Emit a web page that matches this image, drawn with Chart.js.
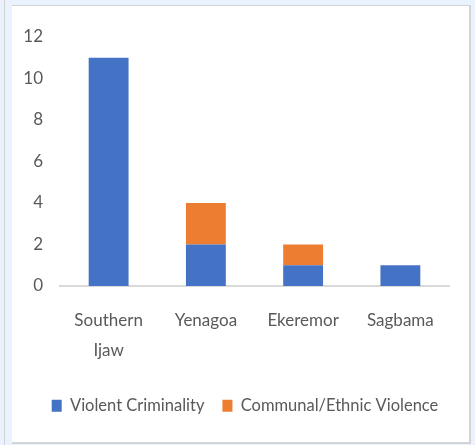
<!DOCTYPE html>
<html>
<head>
<meta charset="utf-8">
<script src="https://cdn.jsdelivr.net/npm/chart.js@4/dist/chart.umd.min.js"></script>
<style>
  html, body { margin: 0; padding: 0; }
  body { width: 475px; height: 445px; background: #eaf3fd; position: relative; overflow: hidden; }
  #edge { position: absolute; left: 4px; top: 0; width: 1px; height: 445px; background: #d4d4d4; }
  #panel { position: absolute; left: 12px; top: 5px; width: 457px; height: 436px;
           background: #fff; border-top: 1px solid #d4d4d4; border-right: 2px solid #d4d4d4; border-bottom: 2px solid #d4d4d4; }
  #wrap { position: absolute; left: 0; top: 0; width: 457px; height: 436px; }
</style>
</head>
<body>
<div id="edge"></div>
<div id="panel"><div id="wrap"><canvas id="c"></canvas></div></div>
<script>
// Incidents by local government area, split by type
const categories = [['Southern', 'Ijaw'], 'Yenagoa', 'Ekeremor', 'Sagbama'];
const violentCriminality = [11, 2, 1, 1];
const communalEthnicViolence = [0, 2, 1, 0];
const yTicks = [0, 2, 4, 6, 8, 10, 12];

const FONT = "Lato, 'Open Sans', sans-serif";
const TEXT = '#595959';

new Chart(document.getElementById('c'), {
  type: 'bar',
  data: {
    labels: categories,
    datasets: [
      { label: 'Violent Criminality', data: violentCriminality, backgroundColor: '#4472c4' },
      { label: 'Communal/Ethnic Violence', data: communalEthnicViolence, backgroundColor: '#ed7d31' }
    ]
  },
  options: {
    responsive: true,
    maintainAspectRatio: false,
    animation: false,
    layout: { padding: { left: 9, right: 0, top: 31, bottom: 18 } },
    datasets: { bar: { barPercentage: 0.41, categoryPercentage: 1 } },
    scales: {
      x: {
        stacked: true,
        grid: { display: false, drawTicks: false },
        border: { display: true, color: '#d9d9d9', width: 2 },
        ticks: { color: TEXT, font: { family: FONT, size: 17, lineHeight: 1.75 }, padding: 20, maxRotation: 0 },
        // keep the plot edges fixed regardless of label widths; tighten the gap above the legend
        afterFit: s => { s.paddingLeft = 0; s.paddingRight = 0; s.height = s.height - 6; }
      },
      y: {
        stacked: true,
        min: 0, max: 12,
        afterBuildTicks: s => { s.ticks = yTicks.map(v => ({ value: v })); },
        afterFit: s => { s.width = 39; },
        grid: { display: false, drawTicks: false },
        border: { display: false },
        ticks: { color: TEXT, font: { family: FONT, size: 17 }, padding: 17 }
      },
      // empty margin on the right of the plot
      yRight: {
        position: 'right',
        min: 0, max: 12,
        grid: { display: false, drawTicks: false },
        border: { display: false },
        ticks: { display: false },
        afterFit: s => { s.width = 20; }
      }
    },
    plugins: {
      legend: {
        position: 'bottom',
        labels: { color: TEXT, font: { family: FONT, size: 16.5 }, boxWidth: 10, boxHeight: 12, padding: 18, useBorderRadius: false }
      },
      tooltip: { enabled: false }
    }
  }
});
</script>
</body>
</html>
